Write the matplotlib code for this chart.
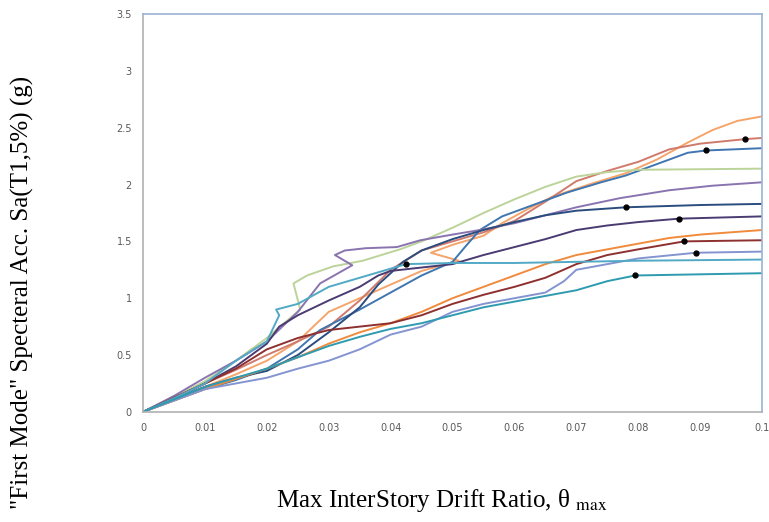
import matplotlib
matplotlib.use("Agg")
import matplotlib.pyplot as plt

plt.rcParams['mathtext.fontset'] = 'stix'

# IDA curves: (drift ratio, Sa) points
lt_orange_x = [0, 0.005, 0.01, 0.015, 0.02, 0.025, 0.03, 0.035, 0.04, 0.045, 0.051, 0.0465, 0.05, 0.055, 0.058, 0.062, 0.066, 0.072, 0.078, 0.083, 0.088, 0.092, 0.096, 0.1]
lt_orange_y = [0, 0.1, 0.22, 0.33, 0.45, 0.62, 0.88, 1.0, 1.12, 1.24, 1.33, 1.40, 1.47, 1.55, 1.66, 1.78, 1.89, 2.0, 2.10, 2.22, 2.37, 2.48, 2.56, 2.6]

salmon_x = [0, 0.005, 0.01, 0.015, 0.02, 0.025, 0.03, 0.035, 0.04, 0.045, 0.05, 0.055, 0.06, 0.065, 0.07, 0.075, 0.08, 0.085, 0.09, 0.0973, 0.1]
salmon_y = [0, 0.12, 0.25, 0.37, 0.5, 0.62, 0.75, 0.98, 1.25, 1.42, 1.5, 1.58, 1.68, 1.85, 2.03, 2.12, 2.2, 2.31, 2.36, 2.40, 2.41]

blue_x = [0, 0.005, 0.01, 0.015, 0.02, 0.025, 0.0286, 0.035, 0.04, 0.045, 0.05, 0.052, 0.0544, 0.058, 0.064, 0.0685, 0.074, 0.078, 0.084, 0.088, 0.091, 0.1]
blue_y = [0, 0.1, 0.2, 0.28, 0.38, 0.55, 0.72, 0.9, 1.05, 1.2, 1.32, 1.45, 1.6, 1.72, 1.84, 1.93, 2.02, 2.08, 2.2, 2.28, 2.30, 2.32]

green_x = [0, 0.005, 0.01, 0.015, 0.02, 0.0254, 0.0243, 0.0265, 0.0307, 0.0355, 0.0415, 0.045, 0.05, 0.055, 0.06, 0.065, 0.07, 0.075, 0.08, 0.1]
green_y = [0, 0.13, 0.27, 0.45, 0.65, 0.90, 1.13, 1.20, 1.28, 1.33, 1.43, 1.5, 1.62, 1.75, 1.87, 1.98, 2.07, 2.11, 2.13, 2.14]

purple_x = [0, 0.005, 0.01, 0.015, 0.02, 0.025, 0.0286, 0.0338, 0.031, 0.0326, 0.036, 0.041, 0.0448, 0.05, 0.0544, 0.06, 0.065, 0.07, 0.077, 0.085, 0.092, 0.1]
purple_y = [0, 0.14, 0.3, 0.45, 0.62, 0.88, 1.13, 1.29, 1.38, 1.42, 1.44, 1.45, 1.51, 1.56, 1.6, 1.66, 1.73, 1.8, 1.88, 1.95, 1.99, 2.02]

navy_x = [0, 0.01, 0.015, 0.02, 0.025, 0.03, 0.035, 0.038, 0.042, 0.045, 0.05, 0.055, 0.06, 0.065, 0.07, 0.078, 0.09, 0.1]
navy_y = [0, 0.22, 0.3, 0.36, 0.5, 0.7, 0.92, 1.12, 1.32, 1.42, 1.52, 1.6, 1.67, 1.73, 1.77, 1.80, 1.82, 1.83]

dk_purple_x = [0, 0.005, 0.01, 0.015, 0.02, 0.022, 0.025, 0.03, 0.035, 0.038, 0.04, 0.045, 0.05, 0.055, 0.06, 0.065, 0.07, 0.075, 0.08, 0.0866, 0.1]
dk_purple_y = [0, 0.12, 0.25, 0.4, 0.6, 0.75, 0.85, 0.98, 1.1, 1.2, 1.24, 1.27, 1.30, 1.38, 1.45, 1.52, 1.6, 1.64, 1.67, 1.70, 1.72]

orange_x = [0, 0.01, 0.02, 0.025, 0.03, 0.035, 0.04, 0.045, 0.05, 0.055, 0.06, 0.065, 0.07, 0.075, 0.08, 0.085, 0.09, 0.1]
orange_y = [0, 0.2, 0.38, 0.48, 0.6, 0.7, 0.78, 0.88, 1.0, 1.1, 1.2, 1.3, 1.38, 1.43, 1.48, 1.53, 1.56, 1.60]

dk_red_x = [0, 0.01, 0.015, 0.02, 0.025, 0.03, 0.035, 0.04, 0.045, 0.05, 0.055, 0.06, 0.065, 0.07, 0.075, 0.08, 0.0874, 0.1]
dk_red_y = [0, 0.25, 0.38, 0.55, 0.65, 0.72, 0.75, 0.78, 0.85, 0.95, 1.03, 1.1, 1.18, 1.3, 1.38, 1.43, 1.50, 1.51]

violet_x = [0, 0.01, 0.02, 0.025, 0.03, 0.035, 0.04, 0.045, 0.05, 0.055, 0.06, 0.065, 0.068, 0.07, 0.075, 0.08, 0.0893, 0.1]
violet_y = [0, 0.2, 0.3, 0.38, 0.45, 0.55, 0.68, 0.75, 0.88, 0.95, 1.0, 1.05, 1.15, 1.25, 1.3, 1.35, 1.40, 1.41]

lt_teal_x = [0, 0.005, 0.01, 0.015, 0.02, 0.022, 0.0215, 0.025, 0.03, 0.035, 0.04, 0.0425, 0.05, 0.06, 0.07, 0.08, 0.1]
lt_teal_y = [0, 0.12, 0.25, 0.45, 0.62, 0.85, 0.9, 0.95, 1.1, 1.18, 1.26, 1.30, 1.31, 1.31, 1.32, 1.33, 1.34]

teal_x = [0, 0.01, 0.02, 0.025, 0.03, 0.035, 0.04, 0.045, 0.05, 0.055, 0.06, 0.065, 0.07, 0.075, 0.0795, 0.1]
teal_y = [0, 0.22, 0.38, 0.48, 0.58, 0.66, 0.73, 0.78, 0.85, 0.92, 0.97, 1.02, 1.07, 1.15, 1.20, 1.22]

# collapse points marked with black dots
dot_x = [0.0973, 0.091, 0.078, 0.0866, 0.0874, 0.0893, 0.0425, 0.0795]
dot_y = [2.40, 2.30, 1.80, 1.70, 1.50, 1.40, 1.30, 1.20]

curves = [
    (lt_orange_x, lt_orange_y, '#f5a46a'),
    (salmon_x, salmon_y, '#d07a6c'),
    (blue_x, blue_y, '#3f76b0'),
    (green_x, green_y, '#bcd39a'),
    (purple_x, purple_y, '#8a74b0'),
    (navy_x, navy_y, '#2b4c7e'),
    (dk_purple_x, dk_purple_y, '#4a3b72'),
    (orange_x, orange_y, '#f08a3c'),
    (dk_red_x, dk_red_y, '#8e3030'),
    (violet_x, violet_y, '#8394d0'),
    (lt_teal_x, lt_teal_y, '#52a9c6'),
    (teal_x, teal_y, '#2f9bb0'),
]

fig = plt.figure(figsize=(7.69, 5.22), dpi=100)
ax = fig.add_axes([0.186, 0.211, 0.805, 0.762])

for xs, ys, c in curves:
    ax.plot(xs, ys, color=c, linewidth=1.4, solid_joinstyle='round')
ax.plot(dot_x, dot_y, 'o', color='black', markersize=3.5, zorder=5)

ax.set_xlim(0, 0.1)
ax.set_ylim(0, 3.5)
ax.set_xticks([0, 0.01, 0.02, 0.03, 0.04, 0.05, 0.06, 0.07, 0.08, 0.09, 0.1])
ax.set_xticklabels(['0', '0.01', '0.02', '0.03', '0.04', '0.05', '0.06', '0.07', '0.08', '0.09', '0.1'])
ax.set_yticks([0, 0.5, 1, 1.5, 2, 2.5, 3, 3.5])
ax.set_yticklabels(['0', '0.5', '1', '1.5', '2', '2.5', '3', '3.5'])
ax.tick_params(length=0, labelsize=7, labelcolor='#595959', pad=8)

ax.spines['left'].set_color('#b0b0b0')
ax.spines['bottom'].set_color('#b0b0b0')
ax.spines['top'].set_color('#9ab3d6')
ax.spines['right'].set_color('#9ab3d6')
for s in ax.spines.values():
    s.set_linewidth(1.2)

fig.text(0.575, 0.015, r'Max InterStory Drift Ratio, θ $_{\rm max}$',
         family='Liberation Serif', fontsize=18, ha='center', va='bottom')
fig.text(0.029, 0.44, '"First Mode" Specteral Acc. Sa(T1,5%) (g)',
         family='Liberation Serif', fontsize=18, rotation=90, ha='center', va='center')

fig.savefig('out.png', dpi=100)
